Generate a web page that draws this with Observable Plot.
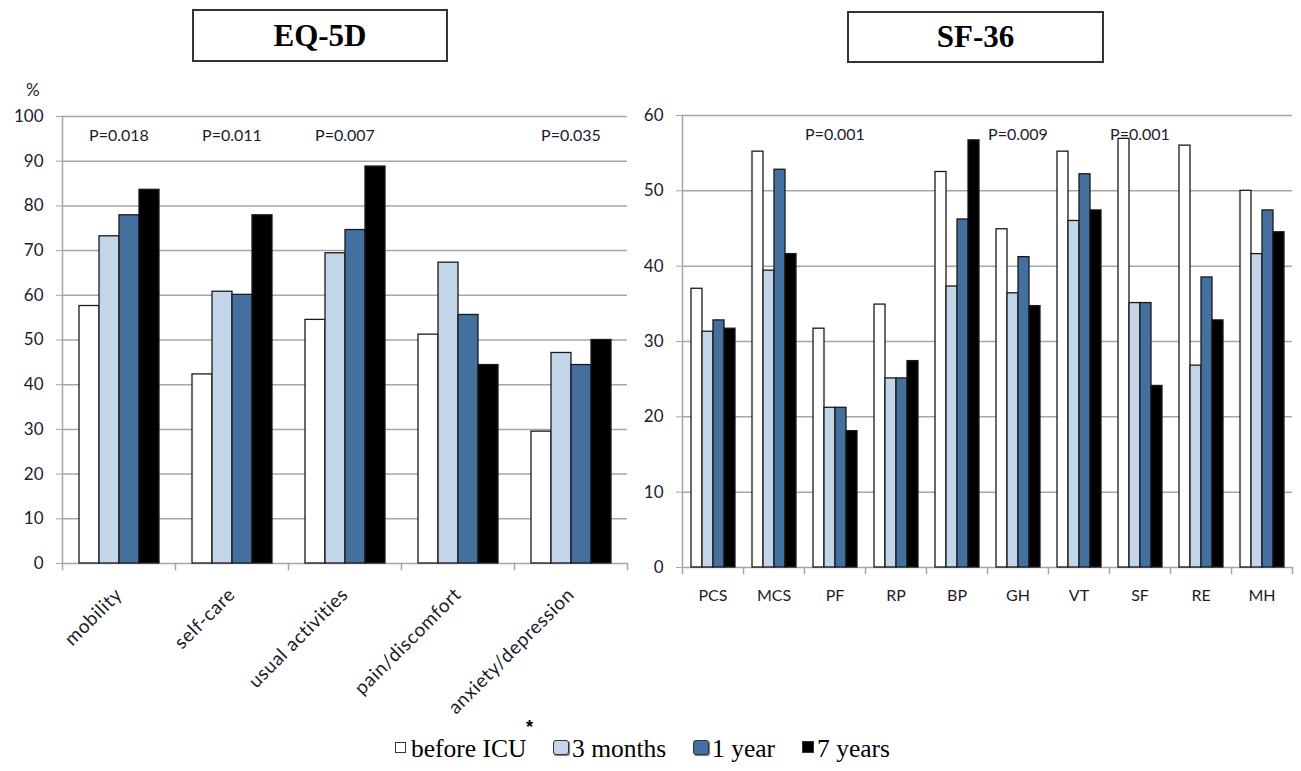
<!DOCTYPE html>
<html>
<head>
<meta charset="utf-8">
<script src="https://cdn.jsdelivr.net/npm/d3@7"></script>
<script src="https://cdn.jsdelivr.net/npm/@observablehq/plot@0.6"></script>
<style>
  html, body { margin: 0; padding: 0; background: #fff; }
  #page { position: relative; width: 1301px; height: 771px; overflow: hidden; font-family: Lato, "Open Sans", sans-serif; }
  .tbox { position: absolute; border: 2px solid #333; box-sizing: border-box; display: flex; align-items: center; justify-content: center;
          font-family: "Liberation Serif", "DejaVu Serif", serif; font-weight: bold; font-size: 31px; color: #000; background: #fff; }
  #left { position: absolute; left: 0; top: 80px; }
  #right { position: absolute; left: 620px; top: 80px; }
  #left g[aria-label="fx-axis tick label"] text { letter-spacing: 0.6px; }
  #legend { position: absolute; left: 0; top: 737px; width: 1301px; font-family: "Liberation Serif", serif; font-size: 25.5px; color: #000; }
  .item { position: absolute; top: 0; white-space: nowrap; line-height: 24px; }
  .sw { position: absolute; box-sizing: border-box; border: 1.5px solid #333; }
  .star { position: absolute; font-family: "Liberation Sans", sans-serif; font-weight: bold; font-size: 18px; line-height: 18px; }
</style>
</head>
<body>
<div id="page">
  <div class="tbox" style="left:192px; top:9px; width:256px; height:53px;">EQ-5D</div>
  <div class="tbox" style="left:847px; top:11px; width:257px; height:52px;">SF-36</div>
  <div id="left"></div>
  <div id="right"></div>
  <div id="legend"></div>
</div>
<script>
// ---- data ----
const series = ["before ICU", "3 months", "1 year", "7 years"];
const seriesColors = ["#ffffff", "#c3d5e8", "#44709f", "#000000"];

const eqCategories = ["mobility", "self-care", "usual activities", "pain/discomfort", "anxiety/depression"];
const eqBefore = [57.6, 42.3, 54.5, 51.2, 29.5];
const eq3m     = [73.2, 60.8, 69.4, 67.3, 47.1];
const eq1y     = [77.9, 60.1, 74.6, 55.6, 44.4];
const eq7y     = [83.6, 77.9, 88.8, 44.4, 50.0];
const eqPvalues = ["P=0.018", "P=0.011", "P=0.007", "", "P=0.035"];
const eqTicks = [0, 10, 20, 30, 40, 50, 60, 70, 80, 90, 100];

const sfCategories = ["PCS", "MCS", "PF", "RP", "BP", "GH", "VT", "SF", "RE", "MH"];
const sfBefore = [37.0, 55.2, 31.7, 34.9, 52.5, 44.9, 55.2, 56.9, 56.0, 50.0];
const sf3m     = [31.3, 39.4, 21.2, 25.1, 37.3, 36.4, 46.0, 35.1, 26.8, 41.6];
const sf1y     = [32.8, 52.8, 21.2, 25.1, 46.2, 41.2, 52.2, 35.1, 38.5, 47.4];
const sf7y     = [31.7, 41.6, 18.1, 27.4, 56.7, 34.7, 47.4, 24.1, 32.8, 44.5];
const sfPvalues = ["", "", "P=0.001", "", "", "P=0.009", "", "P=0.001", "", ""];
const sfTicks = [0, 10, 20, 30, 40, 50, 60];

// ---- build tables ----
function table(cats, cols) {
  const rows = [];
  cats.forEach((c, i) => cols.forEach((col, j) => rows.push({cat: c, series: series[j], value: col[i]})));
  return rows;
}
const eqData = table(eqCategories, [eqBefore, eq3m, eq1y, eq7y]);
const sfData = table(sfCategories, [sfBefore, sf3m, sf1y, sf7y]);
const eqP = eqCategories.map((c, i) => ({cat: c, p: eqPvalues[i]})).filter(d => d.p);
const sfP = sfCategories.map((c, i) => ({cat: c, p: sfPvalues[i]})).filter(d => d.p);

const gridColor = "#a6a6a6";
const textColor = "#1c1c2a";

function chart({data, cats, pdata, ticks, domain, width, height, mL, mR, mT, mB, outer, rotate, fontSize, pad}) {
  const facetH = height - mT - mB;
  return Plot.plot({
    width, height, marginLeft: mL, marginRight: mR, marginTop: mT, marginBottom: mB,
    style: {fontFamily: "Lato, 'Open Sans', sans-serif", color: textColor, background: "transparent"},
    fx: {domain: cats, padding: 0, label: null},
    x: {domain: series, paddingInner: 0, paddingOuter: outer, axis: null},
    y: {domain, label: null},
    color: {domain: series, range: seriesColors},
    marks: [
      Plot.gridY(ticks, {stroke: gridColor, strokeOpacity: 1, strokeWidth: 1.5}),
      Plot.frame({anchor: "left", facetAnchor: "left", stroke: gridColor, strokeOpacity: 1, strokeWidth: 1.5, insetBottom: -6}),
      Plot.frame({anchor: "right", stroke: gridColor, strokeOpacity: 1, strokeWidth: 1.5, insetTop: facetH, insetBottom: -6}),
      Plot.axisY(ticks, {tickSize: 6, tickPadding: 13, fontSize: 17, stroke: gridColor, label: null}),
      Plot.axisFx({anchor: "bottom", tickSize: 0, tickPadding: pad, tickRotate: rotate, fontSize, label: null}),
      Plot.barY(data, {fx: "cat", x: "series", y: "value", fill: "series", stroke: "#1a1a1a", strokeWidth: 1.3}),
      Plot.text(pdata, {fx: "cat", text: "p", frameAnchor: "top", dy: 13, fontSize: 16, fill: textColor})
    ]
  });
}

document.getElementById("left").append(chart({
  data: eqData, cats: eqCategories, pdata: eqP, ticks: eqTicks, domain: [0, 100],
  width: 630, height: 650, mL: 62, mR: 3, mT: 36, mB: 167, outer: 0.76, rotate: -45, fontSize: 19, pad: 28
}));
document.getElementById("right").append(chart({
  data: sfData, cats: sfCategories, pdata: sfP, ticks: sfTicks, domain: [0, 60],
  width: 681, height: 540, mL: 60, mR: 8, mT: 35, mB: 53, outer: 0.66, rotate: 0, fontSize: 16, pad: 22
}));

// "%" unit label
const pct = document.createElement("div");
pct.textContent = "%";
Object.assign(pct.style, {position: "absolute", left: "26px", top: "79px", fontSize: "17px", color: textColor, fontFamily: "Lato, sans-serif"});
document.getElementById("page").append(pct);

// ---- legend ----
const legend = document.getElementById("legend");
const legendItems = [
  {sw: [395, 5, 11, 11], text: 411},
  {sw: [553, 3, 16, 15], text: 572},
  {sw: [693, 3, 16, 15], text: 712},
  {sw: [802, 4, 12, 12], text: 817}
];
series.forEach((s, i) => {
  const it = legendItems[i];
  const sw = document.createElement("div");
  sw.className = "sw";
  Object.assign(sw.style, {left: it.sw[0] + "px", top: it.sw[1] + "px", width: it.sw[2] + "px", height: it.sw[3] + "px", background: seriesColors[i]});
  if (i === 1 || i === 2) { sw.style.borderRadius = "3px"; sw.style.boxShadow = "1px 1px 1px #777"; }
  legend.append(sw);
  const t = document.createElement("div");
  t.className = "item";
  t.style.left = it.text + "px";
  t.textContent = s;
  legend.append(t);
});
const star = document.createElement("div");
star.className = "star";
star.textContent = "*";
Object.assign(star.style, {left: "526px", top: "-19px"});
legend.append(star);
</script>
</body>
</html>
